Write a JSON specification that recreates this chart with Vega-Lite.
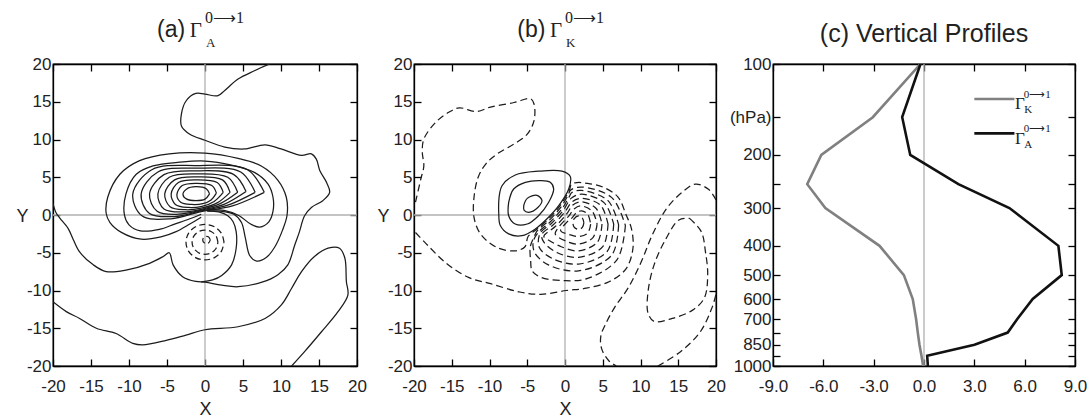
{
"$schema":"https://vega.github.io/schema/vega-lite/v6.json",
"padding":{"left":15,"top":9,"right":5,"bottom":0},
"background":"white",
"spacing":57,
"bounds":"flush",
"config":{"font":"Liberation Sans","view":{"stroke":"#000","strokeWidth":1.3},
"axis":{"domainColor":"#000","domainWidth":1.3,"tickColor":"#000","tickWidth":1.3,"tickSize":-7,"labelFontSize":17,"labelColor":"#222","labelFont":"Liberation Sans","grid":false,"titleFontSize":18,"titleFontWeight":"normal","titleColor":"#222","titleFont":"Liberation Sans","labelFlush":false,"labelOverlap":false,"labelBound":false}},
"datasets":{
"as":[
{"c":"c1","o":1,"x":8.5,"y":20},{"c":"c1","o":2,"x":6.5,"y":19.1},{"c":"c1","o":3,"x":4.35,"y":18},{"c":"c1","o":4,"x":2.6,"y":16.5},{"c":"c1","o":5,"x":1.7,"y":15.8},{"c":"c1","o":6,"x":0,"y":16},{"c":"c1","o":7,"x":-1.2,"y":16.1},{"c":"c1","o":8,"x":-2.5,"y":15.1},{"c":"c1","o":9,"x":-3.1,"y":13.4},{"c":"c1","o":10,"x":-3.1,"y":11.8},{"c":"c1","o":11,"x":-2,"y":10.7},{"c":"c1","o":12,"x":0,"y":9.9},{"c":"c1","o":13,"x":2.6,"y":9},{"c":"c1","o":14,"x":5.2,"y":8.75},{"c":"c1","o":15,"x":7.9,"y":9.3},{"c":"c1","o":16,"x":10,"y":8.75},{"c":"c1","o":17,"x":12.7,"y":7.9},{"c":"c1","o":18,"x":14,"y":8.1},{"c":"c1","o":19,"x":14.65,"y":7.4},{"c":"c1","o":20,"x":15.1,"y":5.9},{"c":"c1","o":21,"x":16,"y":4.3},{"c":"c1","o":22,"x":16.4,"y":3},{"c":"c1","o":23,"x":15.5,"y":1.9},{"c":"c1","o":24,"x":14,"y":1},{"c":"c1","o":25,"x":13.1,"y":-0.1},{"c":"c1","o":26,"x":12.4,"y":-2.3},{"c":"c1","o":27,"x":11.8,"y":-4},{"c":"c1","o":28,"x":10.9,"y":-6.6},{"c":"c1","o":29,"x":9.6,"y":-7.9},{"c":"c1","o":30,"x":7.5,"y":-8.9},{"c":"c1","o":31,"x":4.35,"y":-9.5},{"c":"c1","o":32,"x":2.2,"y":-9.3},{"c":"c1","o":33,"x":0,"y":-8.9},{"c":"c1","o":34,"x":-1.2,"y":-8.8},{"c":"c1","o":35,"x":-2.9,"y":-8.2},{"c":"c1","o":36,"x":-4.2,"y":-6.6},{"c":"c1","o":37,"x":-4.7,"y":-5},{"c":"c1","o":38,"x":-5.5,"y":-5.5},{"c":"c1","o":39,"x":-7.3,"y":-6.4},{"c":"c1","o":40,"x":-10.4,"y":-7.3},{"c":"c1","o":41,"x":-13,"y":-7.5},{"c":"c1","o":42,"x":-14.7,"y":-6.6},{"c":"c1","o":43,"x":-16.5,"y":-4.9},{"c":"c1","o":44,"x":-17.4,"y":-3.1},{"c":"c1","o":45,"x":-18,"y":-1.8},{"c":"c1","o":46,"x":-19.1,"y":-0.4},{"c":"c1","o":47,"x":-19.6,"y":0.3},{"c":"c1","o":48,"x":-20,"y":1.5},
{"c":"lb","o":1,"x":-20,"y":-11.5},{"c":"lb","o":2,"x":-18.25,"y":-12.8},{"c":"lb","o":3,"x":-16.5,"y":-13.7},{"c":"lb","o":4,"x":-14.3,"y":-15},{"c":"lb","o":5,"x":-11.7,"y":-15.7},{"c":"lb","o":6,"x":-9.5,"y":-17},{"c":"lb","o":7,"x":-8.2,"y":-17.2},{"c":"lb","o":8,"x":-5.1,"y":-16.6},{"c":"lb","o":9,"x":-2.5,"y":-15.9},{"c":"lb","o":10,"x":0,"y":-15.2},{"c":"lb","o":11,"x":4.35,"y":-14.8},{"c":"lb","o":12,"x":7.9,"y":-13.7},{"c":"lb","o":13,"x":10.05,"y":-11.9},{"c":"lb","o":14,"x":11.4,"y":-9.7},{"c":"lb","o":15,"x":12.7,"y":-7.5},{"c":"lb","o":16,"x":14.4,"y":-5.5},{"c":"lb","o":17,"x":16.2,"y":-4.4},{"c":"lb","o":18,"x":17.7,"y":-4.4},{"c":"lb","o":19,"x":18.4,"y":-5.7},{"c":"lb","o":20,"x":18.6,"y":-8.8},{"c":"lb","o":21,"x":18.8,"y":-10.6},{"c":"lb","o":22,"x":17.5,"y":-12.8},{"c":"lb","o":23,"x":15.3,"y":-15.5},{"c":"lb","o":24,"x":13.1,"y":-18.1},{"c":"lb","o":25,"x":11.4,"y":-20},
{"c":"ta","o":1,"x":-0.5,"y":-8.85},{"c":"ta","o":2,"x":1,"y":-8.6},{"c":"ta","o":3,"x":2.2,"y":-8},{"c":"ta","o":4,"x":3.5,"y":-6.6},{"c":"ta","o":5,"x":4.1,"y":-4.4},{"c":"ta","o":6,"x":4.1,"y":-2.2},{"c":"ta","o":7,"x":3.7,"y":-0.9},{"c":"ta","o":8,"x":3,"y":-0.1},{"c":"ta","o":9,"x":1.8,"y":0.4},{"c":"ta","o":10,"x":0.3,"y":0.55},
{"c":"o1","o":1,"x":-0.5,"y":-0.3},{"c":"o1","o":2,"x":-2,"y":-1.2},{"c":"o1","o":3,"x":-3.8,"y":-2.2},{"c":"o1","o":4,"x":-5.8,"y":-2.9},{"c":"o1","o":5,"x":-8.4,"y":-3.2},{"c":"o1","o":6,"x":-11,"y":-2.3},{"c":"o1","o":7,"x":-12.5,"y":-1},{"c":"o1","o":8,"x":-13,"y":0.2},{"c":"o1","o":9,"x":-12.8,"y":2.35},{"c":"o1","o":10,"x":-11.2,"y":5.4},{"c":"o1","o":11,"x":-8.6,"y":7.2},{"c":"o1","o":12,"x":-4.7,"y":8.1},{"c":"o1","o":13,"x":0,"y":8.2},{"c":"o1","o":14,"x":4.35,"y":7.5},{"c":"o1","o":15,"x":7.4,"y":6.5},{"c":"o1","o":16,"x":9.6,"y":4.6},{"c":"o1","o":17,"x":10.7,"y":2.35},{"c":"o1","o":18,"x":10.8,"y":0},{"c":"o1","o":19,"x":10.2,"y":-2},{"c":"o1","o":20,"x":9.2,"y":-4.2},{"c":"o1","o":21,"x":8.1,"y":-5.6},{"c":"o1","o":22,"x":6.8,"y":-6.1},{"c":"o1","o":23,"x":5.9,"y":-5.4},{"c":"o1","o":24,"x":5.3,"y":-3},{"c":"o1","o":25,"x":4.8,"y":-1},{"c":"o1","o":26,"x":3.8,"y":0.1},{"c":"o1","o":27,"x":2,"y":0.5},{"c":"o1","o":28,"x":0.3,"y":0.5},
{"c":"o2","o":1,"x":-0.5,"y":0.1},{"c":"o2","o":2,"x":-2,"y":-0.5},{"c":"o2","o":3,"x":-4,"y":-1.2},{"c":"o2","o":4,"x":-6,"y":-1.9},{"c":"o2","o":5,"x":-8.5,"y":-2.1},{"c":"o2","o":6,"x":-10,"y":-1.3},{"c":"o2","o":7,"x":-10.6,"y":0},{"c":"o2","o":8,"x":-10.4,"y":2.8},{"c":"o2","o":9,"x":-9.05,"y":5.4},{"c":"o2","o":10,"x":-6.85,"y":6.5},{"c":"o2","o":11,"x":-3.35,"y":7},{"c":"o2","o":12,"x":0,"y":7.15},{"c":"o2","o":13,"x":3.5,"y":6.6},{"c":"o2","o":14,"x":6.5,"y":5.65},{"c":"o2","o":15,"x":8.3,"y":4.1},{"c":"o2","o":16,"x":8.95,"y":2.35},{"c":"o2","o":17,"x":8.95,"y":0.5},{"c":"o2","o":18,"x":8.4,"y":-0.9},{"c":"o2","o":19,"x":7.2,"y":-1.6},{"c":"o2","o":20,"x":6,"y":-1.2},{"c":"o2","o":21,"x":4.5,"y":-0.1},{"c":"o2","o":22,"x":2.5,"y":0.6},{"c":"o2","o":23,"x":0.5,"y":0.7},
{"c":"l1","o":1,"x":0.6,"y":2.8},{"c":"l1","o":2,"x":0.2,"y":3.45},{"c":"l1","o":3,"x":-1.2,"y":3.75},{"c":"l1","o":4,"x":-2.4,"y":3.45},{"c":"l1","o":5,"x":-2.9,"y":2.7},{"c":"l1","o":6,"x":-2.4,"y":2.1},{"c":"l1","o":7,"x":-1.2,"y":1.9},{"c":"l1","o":8,"x":0,"y":2.1},{"c":"l1","o":9,"x":0.6,"y":2.8},
{"c":"l2","o":1,"x":1.5,"y":2.9},{"c":"l2","o":2,"x":0.9,"y":3.9},{"c":"l2","o":3,"x":-1.2,"y":4.2},{"c":"l2","o":4,"x":-3,"y":3.9},{"c":"l2","o":5,"x":-3.7,"y":2.7},{"c":"l2","o":6,"x":-3.2,"y":1.7},{"c":"l2","o":7,"x":-1.8,"y":1.4},{"c":"l2","o":8,"x":-0.3,"y":1.5},{"c":"l2","o":9,"x":0.8,"y":2},{"c":"l2","o":10,"x":1.5,"y":2.9},
{"c":"l3","o":1,"x":2.4,"y":3},{"c":"l3","o":2,"x":1.6,"y":4.3},{"c":"l3","o":3,"x":-1.2,"y":4.65},{"c":"l3","o":4,"x":-3.5,"y":4.3},{"c":"l3","o":5,"x":-4.45,"y":2.8},{"c":"l3","o":6,"x":-3.9,"y":1.4},{"c":"l3","o":7,"x":-2.2,"y":1},{"c":"l3","o":8,"x":-0.4,"y":1.15},{"c":"l3","o":9,"x":1.2,"y":1.8},{"c":"l3","o":10,"x":2.4,"y":3},
{"c":"l4","o":1,"x":3.3,"y":3},{"c":"l4","o":2,"x":2.3,"y":4.65},{"c":"l4","o":3,"x":-1.2,"y":5.05},{"c":"l4","o":4,"x":-4,"y":4.65},{"c":"l4","o":5,"x":-5.3,"y":2.8},{"c":"l4","o":6,"x":-4.6,"y":1.1},{"c":"l4","o":7,"x":-2.6,"y":0.7},{"c":"l4","o":8,"x":-0.5,"y":0.9},{"c":"l4","o":9,"x":1.6,"y":1.6},{"c":"l4","o":10,"x":3.3,"y":3},
{"c":"l5","o":1,"x":4.3,"y":3},{"c":"l5","o":2,"x":3,"y":5},{"c":"l5","o":3,"x":-1.2,"y":5.45},{"c":"l5","o":4,"x":-4.7,"y":5},{"c":"l5","o":5,"x":-6.2,"y":2.8},{"c":"l5","o":6,"x":-5.4,"y":0.8},{"c":"l5","o":7,"x":-3,"y":0.4},{"c":"l5","o":8,"x":-0.5,"y":0.75},{"c":"l5","o":9,"x":2,"y":1.5},{"c":"l5","o":10,"x":4.3,"y":3},
{"c":"l6","o":1,"x":5.4,"y":3.1},{"c":"l6","o":2,"x":3.8,"y":5.35},{"c":"l6","o":3,"x":-1.2,"y":5.85},{"c":"l6","o":4,"x":-5.4,"y":5.35},{"c":"l6","o":5,"x":-7.3,"y":2.8},{"c":"l6","o":6,"x":-6.3,"y":0.5},{"c":"l6","o":7,"x":-3.5,"y":0.1},{"c":"l6","o":8,"x":-0.5,"y":0.65},{"c":"l6","o":9,"x":2.5,"y":1.4},{"c":"l6","o":10,"x":5.4,"y":3.1},
{"c":"l7","o":1,"x":6.6,"y":3},{"c":"l7","o":2,"x":4.7,"y":5.7},{"c":"l7","o":3,"x":-1.2,"y":6.2},{"c":"l7","o":4,"x":-6.2,"y":5.7},{"c":"l7","o":5,"x":-8.4,"y":2.8},{"c":"l7","o":6,"x":-7.3,"y":0.2},{"c":"l7","o":7,"x":-4,"y":-0.2},{"c":"l7","o":8,"x":-0.5,"y":0.55},{"c":"l7","o":9,"x":3,"y":1.3},{"c":"l7","o":10,"x":6.6,"y":3},
{"c":"l8","o":1,"x":7.8,"y":3},{"c":"l8","o":2,"x":5.6,"y":6},{"c":"l8","o":3,"x":-1.2,"y":6.55},{"c":"l8","o":4,"x":-7,"y":6},{"c":"l8","o":5,"x":-9.5,"y":2.8},{"c":"l8","o":6,"x":-8.3,"y":-0.1},{"c":"l8","o":7,"x":-4.5,"y":-0.5},{"c":"l8","o":8,"x":-0.5,"y":0.45},{"c":"l8","o":9,"x":3.6,"y":1.2},{"c":"l8","o":10,"x":7.8,"y":3}
],
"ad":[
{"c":"d1","o":1,"x":2.5,"y":-3.6},{"c":"d1","o":2,"x":2.17,"y":-2.43},{"c":"d1","o":3,"x":1.25,"y":-1.56},{"c":"d1","o":4,"x":0,"y":-1.25},{"c":"d1","o":5,"x":-1.25,"y":-1.56},{"c":"d1","o":6,"x":-2.17,"y":-2.43},{"c":"d1","o":7,"x":-2.5,"y":-3.6},{"c":"d1","o":8,"x":-2.17,"y":-4.78},{"c":"d1","o":9,"x":-1.25,"y":-5.64},{"c":"d1","o":10,"x":0,"y":-5.95},{"c":"d1","o":11,"x":1.25,"y":-5.64},{"c":"d1","o":12,"x":2.17,"y":-4.78},{"c":"d1","o":13,"x":2.5,"y":-3.6},
{"c":"d2","o":1,"x":1.7,"y":-3.6},{"c":"d2","o":2,"x":1.47,"y":-2.8},{"c":"d2","o":3,"x":0.85,"y":-2.21},{"c":"d2","o":4,"x":0,"y":-2},{"c":"d2","o":5,"x":-0.85,"y":-2.21},{"c":"d2","o":6,"x":-1.47,"y":-2.8},{"c":"d2","o":7,"x":-1.7,"y":-3.6},{"c":"d2","o":8,"x":-1.47,"y":-4.4},{"c":"d2","o":9,"x":-0.85,"y":-4.99},{"c":"d2","o":10,"x":0,"y":-5.2},{"c":"d2","o":11,"x":0.85,"y":-4.99},{"c":"d2","o":12,"x":1.47,"y":-4.4},{"c":"d2","o":13,"x":1.7,"y":-3.6},
{"c":"d3","o":1,"x":0.7,"y":-3.3},{"c":"d3","o":2,"x":0.45,"y":-2.87},{"c":"d3","o":3,"x":-0.05,"y":-2.87},{"c":"d3","o":4,"x":-0.3,"y":-3.3},{"c":"d3","o":5,"x":-0.05,"y":-3.73},{"c":"d3","o":6,"x":0.45,"y":-3.73},{"c":"d3","o":7,"x":0.7,"y":-3.3}
],
"bs":[
{"c":"s1","o":1,"x":-5.47,"y":1.24},{"c":"s1","o":2,"x":-5,"y":2.2},{"c":"s1","o":3,"x":-3.7,"y":2.6},{"c":"s1","o":4,"x":-3.05,"y":1.9},{"c":"s1","o":5,"x":-3.6,"y":1},{"c":"s1","o":6,"x":-4.8,"y":0.36},{"c":"s1","o":7,"x":-5.4,"y":0.6},{"c":"s1","o":8,"x":-5.47,"y":1.24},
{"c":"s2","o":1,"x":-7.46,"y":1.68},{"c":"s2","o":2,"x":-6.8,"y":3.44},{"c":"s2","o":3,"x":-5.25,"y":4.33},{"c":"s2","o":4,"x":-3.27,"y":4.55},{"c":"s2","o":5,"x":-1.95,"y":4.33},{"c":"s2","o":6,"x":-1.5,"y":3.44},{"c":"s2","o":7,"x":-2.16,"y":1.68},{"c":"s2","o":8,"x":-3.5,"y":-0.09},{"c":"s2","o":9,"x":-5,"y":-1.19},{"c":"s2","o":10,"x":-6.6,"y":-1.19},{"c":"s2","o":11,"x":-7.46,"y":-0.09},{"c":"s2","o":12,"x":-7.46,"y":1.68},
{"c":"s3","o":1,"x":-8.78,"y":1.68},{"c":"s3","o":2,"x":-8.34,"y":3.88},{"c":"s3","o":3,"x":-6.58,"y":5.3},{"c":"s3","o":4,"x":-3.5,"y":5.8},{"c":"s3","o":5,"x":-0.4,"y":5.8},{"c":"s3","o":6,"x":0.7,"y":5.1},{"c":"s3","o":7,"x":0.49,"y":3.44},{"c":"s3","o":8,"x":-0.83,"y":1.24},{"c":"s3","o":9,"x":-2.38,"y":-0.5},{"c":"s3","o":10,"x":-3.93,"y":-1.85},{"c":"s3","o":11,"x":-5.7,"y":-2.74},{"c":"s3","o":12,"x":-7.46,"y":-2.5},{"c":"s3","o":13,"x":-8.57,"y":-1.4},{"c":"s3","o":14,"x":-8.78,"y":0.36},{"c":"s3","o":15,"x":-8.78,"y":1.68}
],
"bd":[
{"c":"bo","o":1,"x":-19.8,"y":1.7},{"c":"bo","o":2,"x":-19.1,"y":4.75},{"c":"bo","o":3,"x":-18.7,"y":6.5},{"c":"bo","o":4,"x":-18.9,"y":8.3},{"c":"bo","o":5,"x":-18.7,"y":10.05},{"c":"bo","o":6,"x":-17.1,"y":12.3},{"c":"bo","o":7,"x":-15.4,"y":13.6},{"c":"bo","o":8,"x":-14,"y":14.2},{"c":"bo","o":9,"x":-11.8,"y":13.7},{"c":"bo","o":10,"x":-9.85,"y":14.3},{"c":"bo","o":11,"x":-6.75,"y":14.9},{"c":"bo","o":12,"x":-4.55,"y":15.4},{"c":"bo","o":13,"x":-4.1,"y":14.7},{"c":"bo","o":14,"x":-4.1,"y":12.5},{"c":"bo","o":15,"x":-5,"y":10.7},{"c":"bo","o":16,"x":-6.75,"y":9.4},{"c":"bo","o":17,"x":-8.97,"y":8.1},{"c":"bo","o":18,"x":-10.5,"y":6.75},{"c":"bo","o":19,"x":-11.5,"y":5},{"c":"bo","o":20,"x":-12.05,"y":2.35},{"c":"bo","o":21,"x":-12.05,"y":-0.3},{"c":"bo","o":22,"x":-11.2,"y":-2.5},{"c":"bo","o":23,"x":-9,"y":-4.3},{"c":"bo","o":24,"x":-6.6,"y":-4.75},{"c":"bo","o":25,"x":-5.3,"y":-4.2},{"c":"bo","o":26,"x":-4.89,"y":-2.85},{"c":"bo","o":27,"x":-3.82,"y":-1.95},{"c":"bo","o":28,"x":-2.27,"y":-0.6},{"c":"bo","o":29,"x":-0.72,"y":1.14},{"c":"bo","o":30,"x":0.6,"y":3.34},{"c":"bo","o":31,"x":0.85,"y":4.1},{"c":"bo","o":32,"x":1.6,"y":4.3},{"c":"bo","o":33,"x":2.9,"y":4.2},{"c":"bo","o":34,"x":5,"y":3.7},{"c":"bo","o":35,"x":7,"y":2.4},{"c":"bo","o":36,"x":8.1,"y":0},{"c":"bo","o":37,"x":8.8,"y":-1.8},{"c":"bo","o":38,"x":9,"y":-4.4},{"c":"bo","o":39,"x":8.1,"y":-7.1},{"c":"bo","o":40,"x":5.9,"y":-8.8},{"c":"bo","o":41,"x":2.8,"y":-9.7},{"c":"bo","o":42,"x":0.15,"y":-10},{"c":"bo","o":43,"x":-3.2,"y":-10.5},{"c":"bo","o":44,"x":-6,"y":-10.2},{"c":"bo","o":45,"x":-9.85,"y":-9.1},{"c":"bo","o":46,"x":-12.7,"y":-8.3},{"c":"bo","o":47,"x":-15.6,"y":-6.5},{"c":"bo","o":48,"x":-18.2,"y":-4},{"c":"bo","o":49,"x":-20,"y":-2.1},
{"c":"k1","o":1,"x":2.5,"y":-1},{"c":"k1","o":2,"x":2.3,"y":-1.65},{"c":"k1","o":3,"x":1.8,"y":-1.9},{"c":"k1","o":4,"x":1.25,"y":-1.65},{"c":"k1","o":5,"x":1.05,"y":-1.1},{"c":"k1","o":6,"x":1.2,"y":-0.5},{"c":"k1","o":7,"x":1.8,"y":-0.1},{"c":"k1","o":8,"x":2.3,"y":-0.4},{"c":"k1","o":9,"x":2.5,"y":-1},
{"c":"k2","o":1,"x":3.4,"y":-1.2},{"c":"k2","o":2,"x":3,"y":-2.4},{"c":"k2","o":3,"x":1.8,"y":-2.85},{"c":"k2","o":4,"x":0.6,"y":-2.6},{"c":"k2","o":5,"x":-0.58,"y":-2.08},{"c":"k2","o":6,"x":0.2,"y":-1},{"c":"k2","o":7,"x":0.97,"y":-0.34},{"c":"k2","o":8,"x":1.5,"y":0.3},{"c":"k2","o":9,"x":2.2,"y":0.55},{"c":"k2","o":10,"x":3,"y":0.1},{"c":"k2","o":11,"x":3.4,"y":-1.2},
{"c":"k3","o":1,"x":4.25,"y":-1.2},{"c":"k3","o":2,"x":3.7,"y":-3},{"c":"k3","o":3,"x":1.8,"y":-3.85},{"c":"k3","o":4,"x":0,"y":-3.4},{"c":"k3","o":5,"x":-1.3,"y":-2.5},{"c":"k3","o":6,"x":-0.95,"y":-1.75},{"c":"k3","o":7,"x":0.6,"y":-0.01},{"c":"k3","o":8,"x":1.2,"y":0.8},{"c":"k3","o":9,"x":2.1,"y":1.2},{"c":"k3","o":10,"x":3.6,"y":0.5},{"c":"k3","o":11,"x":4.25,"y":-1.2},
{"c":"k4","o":1,"x":4.9,"y":-1.2},{"c":"k4","o":2,"x":4.3,"y":-3.6},{"c":"k4","o":3,"x":1.8,"y":-4.75},{"c":"k4","o":4,"x":-0.5,"y":-4.2},{"c":"k4","o":5,"x":-2.2,"y":-3.3},{"c":"k4","o":6,"x":-2.8,"y":-2.84},{"c":"k4","o":7,"x":-1.25,"y":-1.49},{"c":"k4","o":8,"x":0.3,"y":0.25},{"c":"k4","o":9,"x":1,"y":1.3},{"c":"k4","o":10,"x":2.1,"y":1.75},{"c":"k4","o":11,"x":4.1,"y":0.9},{"c":"k4","o":12,"x":4.9,"y":-1.2},
{"c":"k5","o":1,"x":5.7,"y":-1.2},{"c":"k5","o":2,"x":5,"y":-4.2},{"c":"k5","o":3,"x":1.8,"y":-5.6},{"c":"k5","o":4,"x":-1,"y":-5},{"c":"k5","o":5,"x":-2.8,"y":-3.6},{"c":"k5","o":6,"x":-3.07,"y":-2.61},{"c":"k5","o":7,"x":-1.52,"y":-1.26},{"c":"k5","o":8,"x":0.03,"y":0.48},{"c":"k5","o":9,"x":0.9,"y":1.7},{"c":"k5","o":10,"x":2.2,"y":2.2},{"c":"k5","o":11,"x":4.7,"y":1.3},{"c":"k5","o":12,"x":5.7,"y":-1.2},
{"c":"k6","o":1,"x":6.45,"y":-1.2},{"c":"k6","o":2,"x":5.6,"y":-4.8},{"c":"k6","o":3,"x":1.8,"y":-6.5},{"c":"k6","o":4,"x":-1.6,"y":-5.8},{"c":"k6","o":5,"x":-3.4,"y":-4.3},{"c":"k6","o":6,"x":-3.29,"y":-2.41},{"c":"k6","o":7,"x":-1.74,"y":-1.06},{"c":"k6","o":8,"x":-0.19,"y":0.68},{"c":"k6","o":9,"x":0.8,"y":2.2},{"c":"k6","o":10,"x":2.2,"y":2.75},{"c":"k6","o":11,"x":5.2,"y":1.6},{"c":"k6","o":12,"x":6.45,"y":-1.2},
{"c":"k7","o":1,"x":7.1,"y":-1.3},{"c":"k7","o":2,"x":6.2,"y":-5.3},{"c":"k7","o":3,"x":1.8,"y":-7.4},{"c":"k7","o":4,"x":-2.2,"y":-6.6},{"c":"k7","o":5,"x":-4,"y":-5},{"c":"k7","o":6,"x":-4.2,"y":-3.5},{"c":"k7","o":7,"x":-3.48,"y":-2.25},{"c":"k7","o":8,"x":-1.93,"y":-0.9},{"c":"k7","o":9,"x":-0.38,"y":0.84},{"c":"k7","o":10,"x":0.5,"y":2.3},{"c":"k7","o":11,"x":0.94,"y":3},{"c":"k7","o":12,"x":2.2,"y":3.25},{"c":"k7","o":13,"x":5.7,"y":1.9},{"c":"k7","o":14,"x":7.1,"y":-1.3},
{"c":"k8","o":1,"x":8,"y":-1.4},{"c":"k8","o":2,"x":6.9,"y":-5.9},{"c":"k8","o":3,"x":3,"y":-8.4},{"c":"k8","o":4,"x":0.1,"y":-8.7},{"c":"k8","o":5,"x":-3.2,"y":-8.25},{"c":"k8","o":6,"x":-4.35,"y":-7.4},{"c":"k8","o":7,"x":-4.55,"y":-6.05},{"c":"k8","o":8,"x":-4.6,"y":-4.2},{"c":"k8","o":9,"x":-4.1,"y":-2.9},{"c":"k8","o":10,"x":-3.67,"y":-2.08},{"c":"k8","o":11,"x":-2.12,"y":-0.73},{"c":"k8","o":12,"x":-0.57,"y":1.01},{"c":"k8","o":13,"x":0.4,"y":2.6},{"c":"k8","o":14,"x":0.75,"y":3.3},{"c":"k8","o":15,"x":2.2,"y":3.7},{"c":"k8","o":16,"x":6.2,"y":2.3},{"c":"k8","o":17,"x":8,"y":-1.4},
{"c":"r1","o":1,"x":20,"y":2},{"c":"r1","o":2,"x":19,"y":3.4},{"c":"r1","o":3,"x":17.3,"y":4.1},{"c":"r1","o":4,"x":15.5,"y":3},{"c":"r1","o":5,"x":13.8,"y":1.3},{"c":"r1","o":6,"x":12.9,"y":0},{"c":"r1","o":7,"x":11.4,"y":-3},{"c":"r1","o":8,"x":10.1,"y":-6.2},{"c":"r1","o":9,"x":8.4,"y":-9.6},{"c":"r1","o":10,"x":6.6,"y":-12.2},{"c":"r1","o":11,"x":5.4,"y":-14.4},{"c":"r1","o":12,"x":4.75,"y":-16},{"c":"r1","o":13,"x":4.85,"y":-17.7},{"c":"r1","o":14,"x":5.8,"y":-19.3},{"c":"r1","o":15,"x":6.8,"y":-20},
{"c":"r2","o":1,"x":12.3,"y":-20},{"c":"r2","o":2,"x":15.3,"y":-18.1},{"c":"r2","o":3,"x":17.9,"y":-15.5},{"c":"r2","o":4,"x":19.5,"y":-12.2},{"c":"r2","o":5,"x":20,"y":-10.5},
{"c":"r3","o":1,"x":16.5,"y":-0.45},{"c":"r3","o":2,"x":18.05,"y":-2.2},{"c":"r3","o":3,"x":18.6,"y":-4.85},{"c":"r3","o":4,"x":18.9,"y":-7.95},{"c":"r3","o":5,"x":18.45,"y":-11},{"c":"r3","o":6,"x":16.9,"y":-12.6},{"c":"r3","o":7,"x":14.2,"y":-13.7},{"c":"r3","o":8,"x":11.8,"y":-14.1},{"c":"r3","o":9,"x":11,"y":-13},{"c":"r3","o":10,"x":11,"y":-10.15},{"c":"r3","o":11,"x":11.8,"y":-6.6},{"c":"r3","o":12,"x":13.4,"y":-3.1},{"c":"r3","o":13,"x":15.1,"y":-0.65},{"c":"r3","o":14,"x":16.5,"y":-0.45}
],
"prof":[
{"s":"K","p":100,"v":-0.21},{"s":"K","p":150,"v":-3.05},{"s":"K","p":200,"v":-6.12},{"s":"K","p":250,"v":-6.96},{"s":"K","p":300,"v":-5.88},{"s":"K","p":400,"v":-2.65},{"s":"K","p":500,"v":-1.2},{"s":"K","p":600,"v":-0.67},{"s":"K","p":700,"v":-0.47},{"s":"K","p":775,"v":-0.37},{"s":"K","p":850,"v":-0.27},{"s":"K","p":925,"v":-0.15},{"s":"K","p":1000,"v":-0.05},
{"s":"A","p":100,"v":-0.21},{"s":"A","p":150,"v":-1.3},{"s":"A","p":200,"v":-0.82},{"s":"A","p":250,"v":2.05},{"s":"A","p":300,"v":5.09},{"s":"A","p":400,"v":8.01},{"s":"A","p":500,"v":8.21},{"s":"A","p":600,"v":6.48},{"s":"A","p":700,"v":5.55},{"s":"A","p":775,"v":4.99},{"s":"A","p":850,"v":3.01},{"s":"A","p":925,"v":0.19},{"s":"A","p":1000,"v":0.23}
]
},
"hconcat":[
{"width":304,"height":302,
"layer":[
{"data":{"values":[{}]},"mark":{"type":"rule","color":"#b0b0b0","strokeWidth":1.3},"encoding":{"x":{"datum":0,"type":"quantitative","scale":{"domain":[-20,20],"nice":false},"axis":{"orient":"bottom","values":[-20,-15,-10,-5,0,5,10,15,20],"labelPadding":19,"labelExpr":"replace(datum.label,'−','-')","title":"X","titleBaseline":"alphabetic","titleY":48}}}},
{"data":{"values":[{}]},"mark":{"type":"rule","color":"#b0b0b0","strokeWidth":1.3},"encoding":{"y":{"datum":0,"type":"quantitative","scale":{"domain":[-20,20],"nice":false},"axis":{"orient":"left","values":[-20,-15,-10,-5,0,5,10,15,20],"labelPadding":9,"labelExpr":"replace(datum.label,'−','-')","title":"Y","titleAngle":0,"titleX":-31,"titleY":157,"titleAlign":"center","titleBaseline":"alphabetic"}}}},
{"data":{"name":"as"},"mark":{"type":"line","interpolate":"catmull-rom","stroke":"#1c1c1c","strokeWidth":1.25,"clip":true},"encoding":{"x":{"field":"x","type":"quantitative","scale":{"domain":[-20,20],"nice":false},"axis":{"orient":"top","values":[-20,-15,-10,-5,0,5,10,15,20],"labels":false,"title":null}},"y":{"field":"y","type":"quantitative","scale":{"domain":[-20,20],"nice":false},"axis":{"orient":"right","values":[-20,-15,-10,-5,0,5,10,15,20],"labels":false,"title":null}},"detail":{"field":"c","type":"nominal"},"order":{"field":"o","type":"quantitative"}}},
{"data":{"name":"ad"},"mark":{"type":"line","interpolate":"catmull-rom","stroke":"#1c1c1c","strokeWidth":1.25,"strokeDash":[6,3.5],"clip":true},"encoding":{"x":{"field":"x","type":"quantitative","scale":{"domain":[-20,20],"nice":false},"axis":null},"y":{"field":"y","type":"quantitative","scale":{"domain":[-20,20],"nice":false},"axis":null},"detail":{"field":"c","type":"nominal"},"order":{"field":"o","type":"quantitative"}}},
{"data":{"values":[{}]},"mark":{"type":"text","text":"(a)","font":"Liberation Sans","fontSize":23,"align":"right","baseline":"alphabetic","color":"#222"},"encoding":{"x":{"datum":-2.6,"type":"quantitative","scale":{"domain":[-20,20],"nice":false},"axis":null},"y":{"datum":23.64,"type":"quantitative","scale":{"domain":[-20,20],"nice":false},"axis":null}}},
{"data":{"values":[{}]},"mark":{"type":"text","text":"Γ","font":"Liberation Serif","fontSize":21,"align":"left","baseline":"alphabetic","color":"#222"},"encoding":{"x":{"datum":-2.0,"type":"quantitative","scale":{"domain":[-20,20],"nice":false},"axis":null},"y":{"datum":23.6,"type":"quantitative","scale":{"domain":[-20,20],"nice":false},"axis":null}}},
{"data":{"values":[{}]},"mark":{"type":"text","text":"0⟶1","font":"Liberation Serif","fontSize":16,"align":"left","baseline":"alphabetic","color":"#222"},"encoding":{"x":{"datum":0.0,"type":"quantitative","scale":{"domain":[-20,20],"nice":false},"axis":null},"y":{"datum":25.4,"type":"quantitative","scale":{"domain":[-20,20],"nice":false},"axis":null}}},
{"data":{"values":[{}]},"mark":{"type":"text","text":"A","font":"Liberation Serif","fontSize":13,"align":"left","baseline":"alphabetic","color":"#222"},"encoding":{"x":{"datum":0.13,"type":"quantitative","scale":{"domain":[-20,20],"nice":false},"axis":null},"y":{"datum":22.2,"type":"quantitative","scale":{"domain":[-20,20],"nice":false},"axis":null}}}
],
"resolve":{"axis":{"x":"independent","y":"independent"}}},
{"width":302,"height":302,
"layer":[
{"data":{"values":[{}]},"mark":{"type":"rule","color":"#b0b0b0","strokeWidth":1.3},"encoding":{"x":{"datum":0,"type":"quantitative","scale":{"domain":[-20,20],"nice":false},"axis":{"orient":"bottom","values":[-20,-15,-10,-5,0,5,10,15,20],"labelPadding":19,"labelExpr":"replace(datum.label,'−','-')","title":"X","titleBaseline":"alphabetic","titleY":48}}}},
{"data":{"values":[{}]},"mark":{"type":"rule","color":"#b0b0b0","strokeWidth":1.3},"encoding":{"y":{"datum":0,"type":"quantitative","scale":{"domain":[-20,20],"nice":false},"axis":{"orient":"left","values":[-20,-15,-10,-5,0,5,10,15,20],"labelPadding":9,"labelExpr":"replace(datum.label,'−','-')","title":"Y","titleAngle":0,"titleX":-31,"titleY":157,"titleAlign":"center","titleBaseline":"alphabetic"}}}},
{"data":{"name":"bs"},"mark":{"type":"line","interpolate":"catmull-rom","stroke":"#1c1c1c","strokeWidth":1.25,"clip":true},"encoding":{"x":{"field":"x","type":"quantitative","scale":{"domain":[-20,20],"nice":false},"axis":{"orient":"top","values":[-20,-15,-10,-5,0,5,10,15,20],"labels":false,"title":null}},"y":{"field":"y","type":"quantitative","scale":{"domain":[-20,20],"nice":false},"axis":{"orient":"right","values":[-20,-15,-10,-5,0,5,10,15,20],"labels":false,"title":null}},"detail":{"field":"c","type":"nominal"},"order":{"field":"o","type":"quantitative"}}},
{"data":{"name":"bd"},"mark":{"type":"line","interpolate":"catmull-rom","stroke":"#1c1c1c","strokeWidth":1.25,"strokeDash":[7,4],"clip":true},"encoding":{"x":{"field":"x","type":"quantitative","scale":{"domain":[-20,20],"nice":false},"axis":null},"y":{"field":"y","type":"quantitative","scale":{"domain":[-20,20],"nice":false},"axis":null},"detail":{"field":"c","type":"nominal"},"order":{"field":"o","type":"quantitative"}}},
{"data":{"values":[{}]},"mark":{"type":"text","text":"(b)","font":"Liberation Sans","fontSize":23,"align":"right","baseline":"alphabetic","color":"#222"},"encoding":{"x":{"datum":-2.6,"type":"quantitative","scale":{"domain":[-20,20],"nice":false},"axis":null},"y":{"datum":23.64,"type":"quantitative","scale":{"domain":[-20,20],"nice":false},"axis":null}}},
{"data":{"values":[{}]},"mark":{"type":"text","text":"Γ","font":"Liberation Serif","fontSize":21,"align":"left","baseline":"alphabetic","color":"#222"},"encoding":{"x":{"datum":-2.0,"type":"quantitative","scale":{"domain":[-20,20],"nice":false},"axis":null},"y":{"datum":23.6,"type":"quantitative","scale":{"domain":[-20,20],"nice":false},"axis":null}}},
{"data":{"values":[{}]},"mark":{"type":"text","text":"0⟶1","font":"Liberation Serif","fontSize":16,"align":"left","baseline":"alphabetic","color":"#222"},"encoding":{"x":{"datum":0.0,"type":"quantitative","scale":{"domain":[-20,20],"nice":false},"axis":null},"y":{"datum":25.4,"type":"quantitative","scale":{"domain":[-20,20],"nice":false},"axis":null}}},
{"data":{"values":[{}]},"mark":{"type":"text","text":"K","font":"Liberation Serif","fontSize":13,"align":"left","baseline":"alphabetic","color":"#222"},"encoding":{"x":{"datum":0.13,"type":"quantitative","scale":{"domain":[-20,20],"nice":false},"axis":null},"y":{"datum":22.2,"type":"quantitative","scale":{"domain":[-20,20],"nice":false},"axis":null}}}
],
"resolve":{"axis":{"x":"independent","y":"independent"}}},
{"width":302,"height":302,
"layer":[
{"data":{"values":[{}]},"mark":{"type":"rule","color":"#b0b0b0","strokeWidth":1.3},"encoding":{"x":{"datum":0,"type":"quantitative","scale":{"domain":[-9,9],"nice":false},"axis":{"orient":"bottom","values":[-9,-6,-3,0,3,6,9],"format":".1f","labelPadding":19,"labelExpr":"replace(datum.label,'−','-')","title":null}}}},
{"data":{"name":"prof"},"mark":{"type":"line","strokeWidth":2.6,"clip":true},"encoding":{"x":{"field":"v","type":"quantitative","scale":{"domain":[-9,9],"nice":false},"axis":{"orient":"top","values":[-9,-6,-3,0,3,6,9],"labels":false,"title":null}},"y":{"field":"p","type":"quantitative","scale":{"type":"log","domain":[100,1000],"reverse":true,"nice":false},"axis":{"orient":"left","values":[100,150,200,250,300,400,500,600,700,775,850,925,1000],"labelPadding":9,"labelExpr":"datum.value==150?'(hPa)':(datum.value==250||datum.value==775||datum.value==925)?'':format(datum.value,'d')","title":null}},"color":{"field":"s","type":"nominal","scale":{"domain":["K","A"],"range":["#808080","#111111"]},"legend":null},"order":{"field":"p","type":"quantitative"}}},
{"data":{"values":[{}]},"mark":{"type":"rule","color":"#808080","strokeWidth":2.6},"encoding":{"x":{"datum":3.0,"type":"quantitative","scale":{"domain":[-9,9],"nice":false},"axis":null},"x2":{"datum":5.39},"y":{"datum":130.6,"type":"quantitative","scale":{"type":"log","domain":[100,1000],"reverse":true,"nice":false},"axis":{"orient":"right","values":[100,150,200,250,300,400,500,600,700,775,850,925,1000],"labels":false,"title":null}}}},
{"data":{"values":[{}]},"mark":{"type":"rule","color":"#111111","strokeWidth":2.6},"encoding":{"x":{"datum":3.0,"type":"quantitative","scale":{"domain":[-9,9],"nice":false},"axis":null},"x2":{"datum":5.39},"y":{"datum":169.7,"type":"quantitative","scale":{"type":"log","domain":[100,1000],"reverse":true,"nice":false},"axis":null}}},
{"data":{"values":[{}]},"mark":{"type":"text","text":"(c) Vertical Profiles","font":"Liberation Sans","fontSize":25,"align":"center","baseline":"alphabetic","color":"#222"},"encoding":{"x":{"datum":0,"type":"quantitative","scale":{"domain":[-9,9],"nice":false},"axis":null},"y":{"datum":84.6,"type":"quantitative","scale":{"type":"log","domain":[100,1000],"reverse":true,"nice":false},"axis":null}}},
{"data":{"values":[{}]},"mark":{"type":"text","text":"Γ","font":"Liberation Serif","fontSize":17,"align":"left","baseline":"alphabetic","color":"#222"},"encoding":{"x":{"datum":5.42,"type":"quantitative","scale":{"domain":[-9,9],"nice":false},"axis":null},"y":{"datum":140.9,"type":"quantitative","scale":{"type":"log","domain":[100,1000],"reverse":true,"nice":false},"axis":null}}},
{"data":{"values":[{}]},"mark":{"type":"text","text":"0⟶1","font":"Liberation Serif","fontSize":11,"align":"left","baseline":"alphabetic","color":"#222"},"encoding":{"x":{"datum":5.95,"type":"quantitative","scale":{"domain":[-9,9],"nice":false},"axis":null},"y":{"datum":129.6,"type":"quantitative","scale":{"type":"log","domain":[100,1000],"reverse":true,"nice":false},"axis":null}}},
{"data":{"values":[{}]},"mark":{"type":"text","text":"K","font":"Liberation Serif","fontSize":11,"align":"left","baseline":"alphabetic","color":"#222"},"encoding":{"x":{"datum":5.98,"type":"quantitative","scale":{"domain":[-9,9],"nice":false},"axis":null},"y":{"datum":145.3,"type":"quantitative","scale":{"type":"log","domain":[100,1000],"reverse":true,"nice":false},"axis":null}}},
{"data":{"values":[{}]},"mark":{"type":"text","text":"Γ","font":"Liberation Serif","fontSize":17,"align":"left","baseline":"alphabetic","color":"#222"},"encoding":{"x":{"datum":5.42,"type":"quantitative","scale":{"domain":[-9,9],"nice":false},"axis":null},"y":{"datum":184.1,"type":"quantitative","scale":{"type":"log","domain":[100,1000],"reverse":true,"nice":false},"axis":null}}},
{"data":{"values":[{}]},"mark":{"type":"text","text":"0⟶1","font":"Liberation Serif","fontSize":11,"align":"left","baseline":"alphabetic","color":"#222"},"encoding":{"x":{"datum":5.95,"type":"quantitative","scale":{"domain":[-9,9],"nice":false},"axis":null},"y":{"datum":168.0,"type":"quantitative","scale":{"type":"log","domain":[100,1000],"reverse":true,"nice":false},"axis":null}}},
{"data":{"values":[{}]},"mark":{"type":"text","text":"A","font":"Liberation Serif","fontSize":11,"align":"left","baseline":"alphabetic","color":"#222"},"encoding":{"x":{"datum":5.98,"type":"quantitative","scale":{"domain":[-9,9],"nice":false},"axis":null},"y":{"datum":189.7,"type":"quantitative","scale":{"type":"log","domain":[100,1000],"reverse":true,"nice":false},"axis":null}}}
],
"resolve":{"axis":{"x":"independent","y":"independent"}}}
]
}
